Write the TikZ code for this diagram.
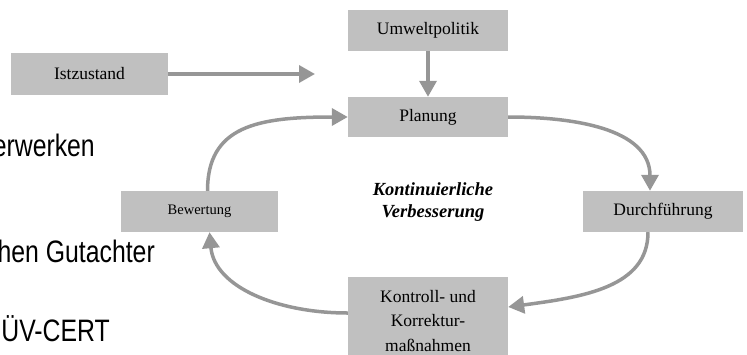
\documentclass[tikz,border=0pt]{standalone}
\usepackage{fontspec}
\setmainfont{Liberation Serif}
\newfontfamily\narrowsans[FakeStretch=0.8]{Liberation Sans}
\usetikzlibrary{arrows.meta}
\definecolor{boxgray}{RGB}{192,192,192}
\definecolor{arrgray}{RGB}{150,150,150}
\begin{document}
\begin{tikzpicture}[x=1pt,y=-1pt,
  box/.style={fill=boxgray, inner sep=0pt, minimum width=160pt, minimum height=41pt,
              font=\fontsize{17.5}{24}\selectfont, align=center},
  boxtext/.style={inner sep=0pt, font=\fontsize{17.5}{24.5}\selectfont, align=center},
  flow/.style={draw=arrgray, line width=3.5pt, -{Triangle[length=16pt,width=17pt]}},
  slide/.style={font=\narrowsans\fontsize{31}{36}\selectfont, anchor=base east, inner sep=0pt},
  centre/.style={inner sep=0pt, font=\bfseries\itshape\fontsize{18.5}{22}\selectfont, align=center}]
\useasboundingbox (0,0) rectangle (747,354);

% partially visible slide text on the left
\node[slide] (s1) at (95,156) {erwerken};
\node[slide] (s2) at (155,262) {hen Gutachter};
\node[slide] (s3) at (110,341) {ÜV-CERT};

% boxes
\node[box, minimum width=157pt, minimum height=42pt] (ist) at (89.5,74) {Istzustand};
\node[box] (umw) at (428,30.5) {Umweltpolitik};
\node[box, minimum height=40pt] (plan) at (428,117) {Planung};
\node[box] (dur) at (663,211.5) {Durchführung};
\node[box, minimum width=157pt, font=\fontsize{14.5}{18}\selectfont] (bew) at (199.5,211.5) {Bewertung};
\node[box, minimum height=80pt] (kon) at (428,317) {};
\node[boxtext] (kontext) at (428,321) {Kontroll- und\\Korrektur-\\maßnahmen};

\node[centre] (kv) at (433,202) {Kontinuierliche\\Verbesserung};

\coordinate (istend) at (315,74);

% connectors
\draw[flow] (ist.east) -- (istend);
\draw[flow] (umw.south) -- (plan.north);
\draw[flow] (plan.east) .. controls +(63,0) and +(0,-63) .. ([xshift=-13pt]dur.north);
\draw[flow] ([xshift=-15pt]dur.south) .. controls +(0,55) and +(75,-10) .. ([yshift=10pt]kon.east);
\draw[flow] ([yshift=4pt]kon.west) .. controls +(-70,0) and +(5,55) .. ([xshift=10pt]bew.south);
\draw[flow] ([xshift=8pt]bew.north) .. controls +(0,-65) and +(-90,0) .. (plan.west);
\end{tikzpicture}
\end{document}
